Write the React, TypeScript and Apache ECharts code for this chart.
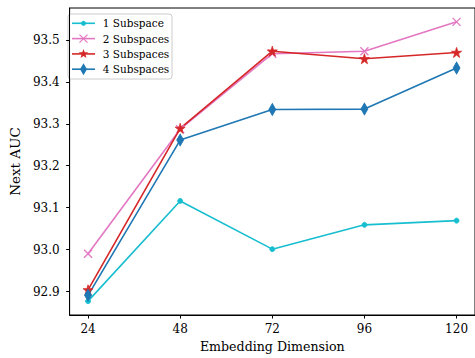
import React, { useEffect, useRef } from "react";
import * as echarts from "echarts";

const dims = [24, 48, 72, 96, 120];
const seriesNames = ["1 Subspace", "2 Subspaces", "3 Subspaces", "4 Subspaces"];
const sub1 = [92.877, 93.116, 93.001, 93.059, 93.069];
const sub2 = [92.99, 93.287, 93.467, 93.473, 93.543];
const sub3 = [92.904, 93.289, 93.473, 93.455, 93.47];
const sub4 = [92.891, 93.261, 93.334, 93.335, 93.433];
const yTicks = [92.9, 93.0, 93.1, 93.2, 93.3, 93.4, 93.5];
const xTicks = [24, 48, 72, 96, 120];

const colors = ["#17becf", "#e377c2", "#d62728", "#1f77b4"];
const FONT = "DejaVu Serif";

const X_PATH = "path://M0,0L10,10M10,0L0,10";
const STAR_PATH =
  "path://M50,0L61.2,34.5L97.6,34.5L68.2,55.9L79.4,90.5L50,69.1L20.6,90.5L31.8,55.9L2.4,34.5L38.8,34.5Z";

export default function App() {
  const ref = useRef<HTMLDivElement>(null);
  useEffect(() => {
    document.body.style.margin = "0";
    const chart = echarts.init(ref.current!, null, { renderer: "svg" });
    const allValues = [sub1, sub2, sub3, sub4];
    const symbols: any[] = ["circle", X_PATH, STAR_PATH, "diamond"];
    const sizes: any[] = [5, 8, 10, [7, 12]];

    const series = allValues.map((vals, i) => ({
      name: seriesNames[i],
      type: "line",
      data: dims.map((d, j) => [d, vals[j]]),
      symbol: symbols[i],
      symbolSize: sizes[i],
      lineStyle: { color: colors[i], width: 1.6 },
      itemStyle: {
        color: colors[i],
        borderColor: colors[i],
        borderWidth: i === 1 ? 1.3 : 0.8,
      },
      emphasis: { disabled: true },
    }));

    // legend drawn as graphic
    const lx = 68;
    const ly = 14;
    const rowY = (i: number) => 23.3 + 15.3 * i;
    const legendChildren: any[] = [
      {
        type: "rect",
        shape: { x: lx, y: ly, width: 104, height: 65, r: 3 },
        style: { fill: "rgba(255,255,255,0.8)", stroke: "#cccccc", lineWidth: 1 },
      },
    ];
    seriesNames.forEach((name, i) => {
      const y = rowY(i);
      const cx = 83.5;
      legendChildren.push({
        type: "line",
        shape: { x1: 72, y1: y, x2: 95, y2: y },
        style: { stroke: colors[i], lineWidth: 1.6 },
      });
      if (i === 0) {
        legendChildren.push({
          type: "circle",
          shape: { cx, cy: y, r: 2.5 },
          style: { fill: colors[i] },
        });
      } else if (i === 1) {
        legendChildren.push({
          type: "line",
          shape: { x1: cx - 4, y1: y - 4, x2: cx + 4, y2: y + 4 },
          style: { stroke: colors[i], lineWidth: 1.3 },
        });
        legendChildren.push({
          type: "line",
          shape: { x1: cx - 4, y1: y + 4, x2: cx + 4, y2: y - 4 },
          style: { stroke: colors[i], lineWidth: 1.3 },
        });
      } else if (i === 2) {
        const pts: number[][] = [];
        for (let k = 0; k < 10; k++) {
          const r = k % 2 === 0 ? 5 : 2.1;
          const a = -Math.PI / 2 + (k * Math.PI) / 5;
          pts.push([cx + r * Math.cos(a), y + r * Math.sin(a)]);
        }
        legendChildren.push({
          type: "polygon",
          shape: { points: pts },
          style: { fill: colors[i] },
        });
      } else {
        legendChildren.push({
          type: "polygon",
          shape: {
            points: [
              [cx, y - 6],
              [cx + 3.5, y],
              [cx, y + 6],
              [cx - 3.5, y],
            ],
          },
          style: { fill: colors[i] },
        });
      }
      legendChildren.push({
        type: "text",
        x: 102.7,
        y,
        style: {
          text: name,
          fontFamily: FONT,
          fontSize: 10.5,
          fill: "#000",
          verticalAlign: "middle",
          align: "left",
        },
      });
    });

    chart.setOption({
      animation: false,
      backgroundColor: "#fff",
      grid: {
        show: true,
        left: 63,
        top: 8,
        width: 415,
        height: 310,
        borderColor: "#000",
        borderWidth: 1,
        containLabel: false,
      },
      xAxis: {
        type: "value",
        min: 19.2,
        max: 124.8,
        name: "Embedding Dimension",
        nameLocation: "middle",
        nameGap: 25,
        nameTextStyle: { fontFamily: FONT, fontSize: 12.6, color: "#000" },
        axisLine: { show: true, lineStyle: { color: "#000", width: 1 } },
        axisTick: {
          show: true,
          customValues: xTicks,
          length: 3.5,
          lineStyle: { color: "#000" },
        },
        axisLabel: {
          customValues: xTicks,
          fontFamily: FONT,
          fontSize: 12,
          color: "#000",
          margin: 8,
        },
        splitLine: { show: false },
      },
      yAxis: {
        type: "value",
        min: 92.844,
        max: 93.576,
        name: "Next AUC",
        nameLocation: "middle",
        nameGap: 41,
        nameTextStyle: { fontFamily: FONT, fontSize: 13.5, color: "#000" },
        axisLine: { show: true, lineStyle: { color: "#000", width: 1 } },
        axisTick: {
          show: true,
          customValues: yTicks,
          length: 3.5,
          lineStyle: { color: "#000" },
        },
        axisLabel: {
          customValues: yTicks,
          fontFamily: FONT,
          fontSize: 12,
          color: "#000",
          margin: 10,
          formatter: (v: number) => v.toFixed(1),
        },
        splitLine: { show: false },
      },
      graphic: [{ type: "group", children: legendChildren, z: 100 }],
      series,
    });
    return () => chart.dispose();
  }, []);
  return (
    <div
      ref={ref}
      style={{ width: 475, height: 358, position: "absolute", left: 0, top: 0 }}
    />
  );
}
